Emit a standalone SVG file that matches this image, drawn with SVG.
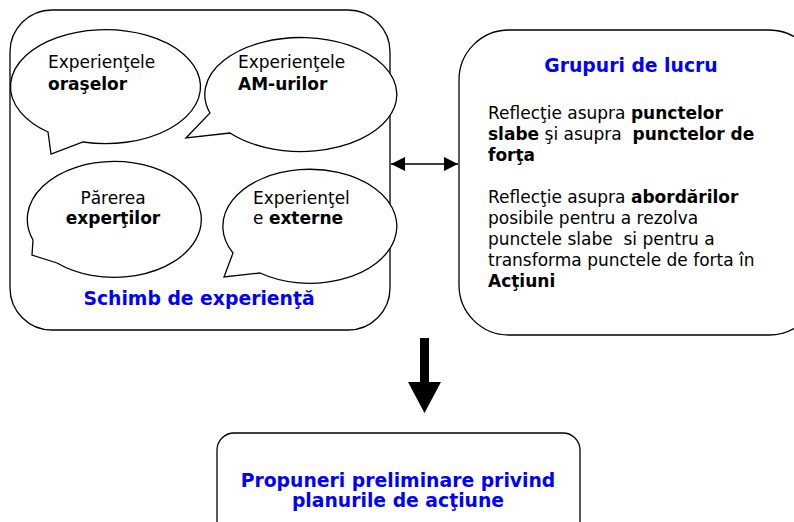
<svg xmlns="http://www.w3.org/2000/svg" width="794" height="522" viewBox="0 0 794 522">
<defs>
<style>
.box{fill:#fff;stroke:#000;stroke-width:1.3}
.t{font-family:"DejaVu Sans",Verdana,sans-serif;font-size:17px;fill:#000;white-space:pre}
.b{font-weight:bold}
.blue{fill:#0000ff;font-weight:bold;font-size:18.8px}
</style>
<marker id="ah" viewBox="0 0 10 10" refX="10" refY="5" markerWidth="14" markerHeight="14" markerUnits="userSpaceOnUse" orient="auto-start-reverse"><path d="M0,0 L10,5 L0,10 z" fill="#000"/></marker>
</defs>
<rect width="794" height="522" fill="#fff"/>
<g id="schimb">
<rect class="box" x="10" y="10" width="380" height="320" rx="42" ry="42"/>
<text class="t blue" x="199" y="305" text-anchor="middle">Schimb de experienţă</text>
</g>
<g id="bubble1">
<path class="box" d="M48,132 A95,57 0 1 1 83,142 L51,154 Z"/>
<text class="t" x="48" y="68">Experienţele</text>
<text class="t b" x="48" y="90">oraşelor</text>
</g>
<g id="bubble2">
<path class="box" d="M210,113 A96,57 0 1 1 230,133 L186,138 Z"/>
<text class="t" x="238" y="68">Experienţele</text>
<text class="t b" x="238" y="90">AM-urilor</text>
</g>
<g id="bubble3">
<path class="box" d="M33,240 A87,58 0 1 1 57,263 L32,255 Z"/>
<text class="t" x="113" y="204" text-anchor="middle">Părerea</text>
<text class="t b" x="113" y="224" text-anchor="middle">experţilor</text>
</g>
<g id="bubble4">
<path class="box" d="M233,253 A87,57 0 1 1 260,273 L224,277 Z"/>
<text class="t" x="253" y="204">Experienţel</text>
<text class="t" x="253" y="224">e <tspan class="b">externe</tspan></text>
</g>
<g id="grupuri">
<rect class="box" x="459" y="30" width="360" height="305" rx="50" ry="50"/>
<text class="t blue" x="631" y="72" text-anchor="middle">Grupuri de lucru</text>
<text class="t" x="488" y="119">Reflecţie asupra <tspan class="b">punctelor</tspan></text>
<text class="t" x="488" y="140"><tspan class="b">slabe</tspan> şi asupra  <tspan class="b">punctelor de</tspan></text>
<text class="t b" x="488" y="161">forţa</text>
<text class="t" x="488" y="203">Reflecţie asupra <tspan class="b">abordărilor</tspan></text>
<text class="t" x="488" y="224">posibile pentru a rezolva</text>
<text class="t" x="488" y="245">punctele slabe  si pentru a</text>
<text class="t" x="488" y="266">transforma punctele de forta în</text>
<text class="t b" x="488" y="287">Acţiuni</text>
</g>
<g id="propuneri">
<rect class="box" x="217" y="433" width="363" height="120" rx="17" ry="17"/>
<text class="t blue" x="398" y="487" text-anchor="middle">Propuneri preliminare privind</text>
<text class="t blue" x="398" y="507" text-anchor="middle">planurile de acţiune</text>
</g>
<g id="connectors">
<line x1="391" y1="164" x2="458" y2="164" stroke="#000" stroke-width="1.5" marker-start="url(#ah)" marker-end="url(#ah)"/>
<path d="M420,338 H429 V382 H441 L424.5,413 L408,382 H420 Z" fill="#000"/>
</g>
</svg>
